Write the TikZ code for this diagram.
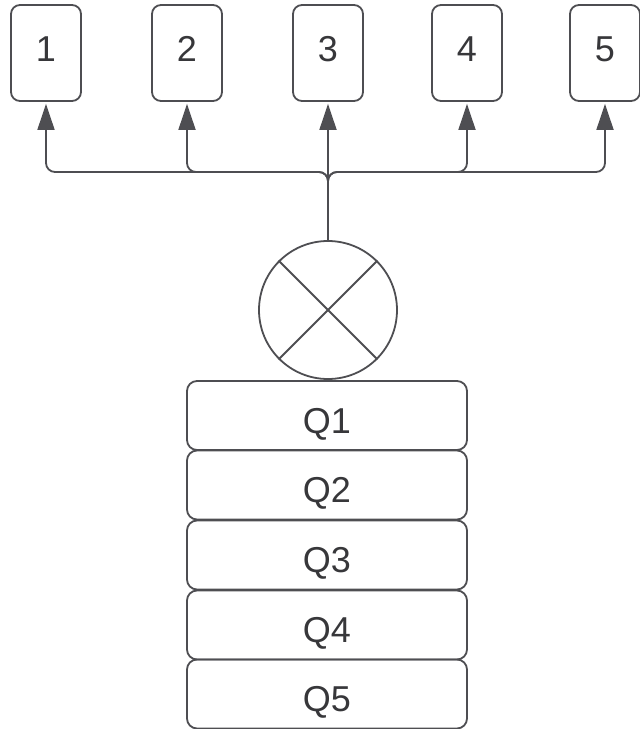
\documentclass[tikz,border=0pt]{standalone}
\usepackage{fontspec}
\setmainfont{Liberation Sans}
\usetikzlibrary{arrows.meta}
\definecolor{ln}{RGB}{78,78,82}
\definecolor{tx}{RGB}{55,55,58}
\begin{document}
\begin{tikzpicture}[x=1pt,y=-1pt,
  topbox/.style={draw=ln, line width=1.8pt, rounded corners=9pt, minimum width=70pt, minimum height=96pt, text=tx, font=\fontsize{36}{42}\selectfont, inner sep=0pt, text height=25pt, text depth=9pt},
  qbox/.style={draw=ln, line width=1.8pt, rounded corners=10pt, minimum width=280pt, minimum height=69pt, text=tx, font=\fontsize{36}{42}\selectfont, inner sep=0pt, text height=37pt, text depth=2pt},
  conn/.style={draw=ln, line width=1.8pt, rounded corners=9pt, -{Triangle[length=26pt,width=17pt]}, shorten >=2pt},
  mixer/.style={draw=ln, line width=1.8pt, circle, minimum size=138pt, inner sep=0pt}]
\useasboundingbox (0,0) rectangle (640,729);
\node[topbox] (b1) at (46,53) {1};
\node[topbox] (b2) at (187,53) {2};
\node[topbox] (b3) at (328,53) {3};
\node[topbox] (b4) at (467,53) {4};
\node[topbox] (b5) at (605,53) {5};
\node[mixer] (c) at (328,310) {};
\draw[ln, line width=1.8pt] (c.45) -- (c.225) (c.135) -- (c.315);
\coordinate (j) at (328,172);
\draw[conn] (c.north) -- (j) -| (b1.south);
\draw[conn] (c.north) -- (j) -| (b2.south);
\draw[conn] (c.north) -- (b3.south);
\draw[conn] (c.north) -- (j) -| (b4.south);
\draw[conn] (c.north) -- (j) -| (b5.south);
\node[qbox] (q1) at (327,415.5) {Q1};
\node[qbox] (q2) at (327,485) {Q2};
\node[qbox] (q3) at (327,555) {Q3};
\node[qbox] (q4) at (327,625) {Q4};
\node[qbox] (q5) at (327,694) {Q5};
\end{tikzpicture}
\end{document}
